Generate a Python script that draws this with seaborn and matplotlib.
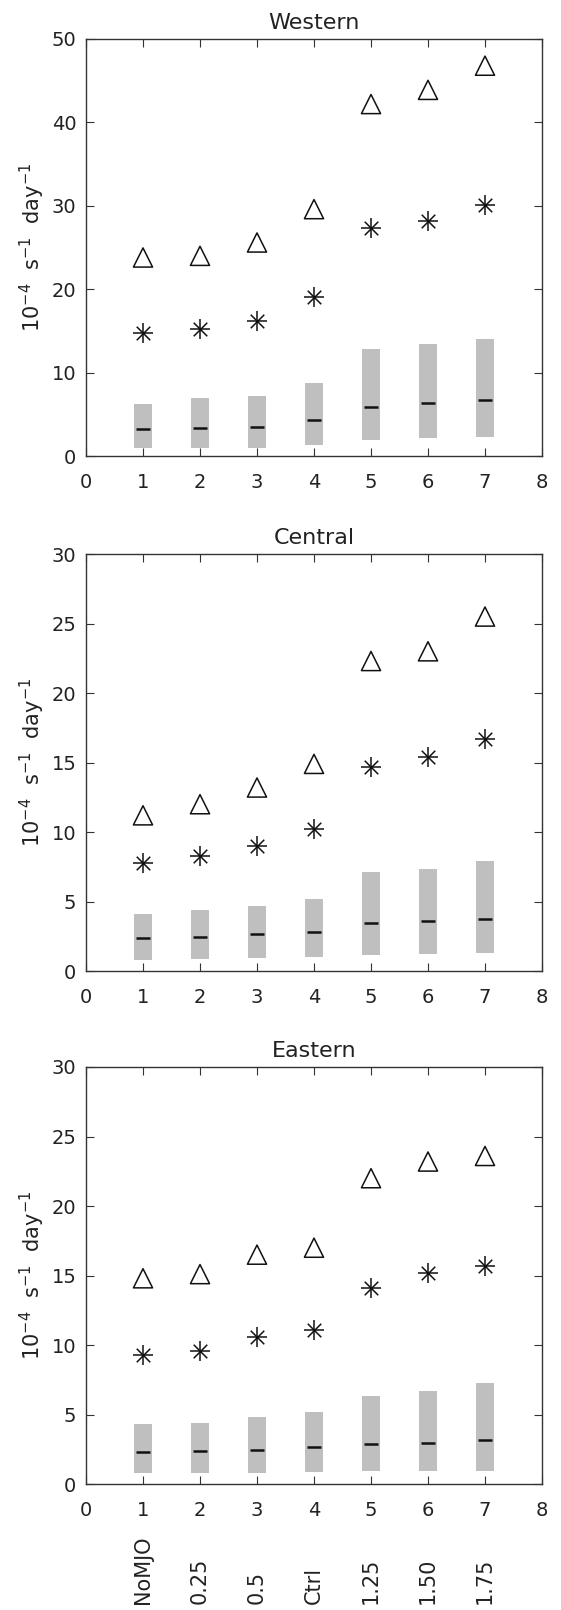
import matplotlib
matplotlib.use("Agg")
import matplotlib.pyplot as plt
import seaborn as sns
import numpy as np
import pandas as pd
from matplotlib.transforms import blended_transform_factory

sns.set_style("ticks")
plt.rcParams['font.family'] = ['DejaVu Sans']

x = [1, 2, 3, 4, 5, 6, 7]
categories = ["NoMJO", "0.25", "0.5", "Ctrl", "1.25", "1.50", "1.75"]
titles = ["Western", "Central", "Eastern"]
ylims = [50, 30, 30]
yticks = [[0, 10, 20, 30, 40, 50], [0, 5, 10, 15, 20, 25, 30], [0, 5, 10, 15, 20, 25, 30]]

west_tri = [23.8, 24.0, 25.6, 29.6, 42.2, 43.9, 46.8]
west_ast = [14.7, 15.2, 16.2, 19.1, 27.3, 28.2, 30.1]
west_lo = [0.9, 0.9, 1.0, 1.3, 1.9, 2.1, 2.3]
west_hi = [6.2, 6.9, 7.2, 8.8, 12.8, 13.4, 14.0]
west_med = [3.2, 3.4, 3.5, 4.3, 5.9, 6.3, 6.7]

cent_tri = [11.2, 12.0, 13.2, 14.9, 22.3, 23.0, 25.5]
cent_ast = [7.8, 8.3, 9.0, 10.2, 14.7, 15.4, 16.7]
cent_lo = [0.8, 0.85, 0.9, 1.0, 1.15, 1.2, 1.3]
cent_hi = [4.07, 4.38, 4.7, 5.17, 7.13, 7.37, 7.92]
cent_med = [2.35, 2.47, 2.66, 2.83, 3.42, 3.59, 3.76]

east_tri = [14.8, 15.1, 16.5, 17.0, 22.0, 23.2, 23.6]
east_ast = [9.3, 9.6, 10.6, 11.1, 14.1, 15.2, 15.7]
east_lo = [0.8, 0.8, 0.82, 0.85, 0.93, 0.93, 0.93]
east_hi = [4.34, 4.41, 4.81, 5.19, 6.33, 6.7, 7.26]
east_med = [2.31, 2.34, 2.47, 2.63, 2.9, 2.98, 3.14]

panels = [
    (west_tri, west_ast, west_lo, west_hi, west_med),
    (cent_tri, cent_ast, cent_lo, cent_hi, cent_med),
    (east_tri, east_ast, east_lo, east_hi, east_med),
]

W, H = 561, 1610
fig = plt.figure(figsize=(W / 100, H / 100), dpi=100)
tops_px = [39, 554, 1067]
ax_h_px = 417
left_px, ax_w_px = 86, 456

spine_col = "#333333"
for i, (tri, ast, lo, hi, med) in enumerate(panels):
    top = tops_px[i]
    ax = fig.add_axes([left_px / W, 1 - (top + ax_h_px) / H, ax_w_px / W, ax_h_px / H])
    df = pd.DataFrame({"x": x, "tri": tri, "ast": ast, "lo": lo, "hi": hi, "med": med})
    df["h"] = df["hi"] - df["lo"]
    ax.bar(df["x"], df["h"], bottom=df["lo"], width=0.33, color="#bfbfbf", linewidth=0, zorder=1)
    sns.scatterplot(data=df, x="x", y="med", marker="_", s=100, color="#111111",
                    linewidth=1.8, ax=ax, zorder=3, legend=False)
    sns.scatterplot(data=df, x="x", y="tri", marker="^", s=190, facecolor="none",
                    edgecolor="#111111", linewidth=1.1, ax=ax, zorder=3, legend=False)
    sns.scatterplot(data=df, x="x", y="ast", marker="+", s=190, color="#111111",
                    linewidth=1.1, ax=ax, zorder=3, legend=False)
    sns.scatterplot(data=df, x="x", y="ast", marker="x", s=95, color="#111111",
                    linewidth=1.1, ax=ax, zorder=3, legend=False)
    ax.set_xlim(0, 8)
    ax.set_ylim(0, ylims[i])
    ax.set_xticks(range(0, 9))
    ax.set_yticks(yticks[i])
    ax.tick_params(direction="in", length=6, width=0.8, colors=spine_col,
                   top=True, right=True, labelsize=14, labelcolor="#222222")
    ax.tick_params(axis="x", pad=12)
    ax.tick_params(axis="y", pad=7)
    for sp in ax.spines.values():
        sp.set_visible(True)
        sp.set_linewidth(1.0)
        sp.set_color(spine_col)
    ax.set_xlabel("")
    ax.set_ylabel(r"$10^{-4}$  s$^{-1}$  day$^{-1}$", fontsize=15, color="#222222")
    ax.yaxis.set_label_coords(-0.085, 0.5)
    ax.set_title(titles[i], fontsize=16, pad=7, color="#222222")
    if i == 2:
        trans = blended_transform_factory(ax.transData, ax.transAxes)
        for xi, c in zip(x, categories):
            ax.text(xi, -0.287, c, rotation=90, ha="center", va="bottom",
                    fontsize=15, color="#222222", transform=trans)

fig.savefig("out.png", dpi=100)
